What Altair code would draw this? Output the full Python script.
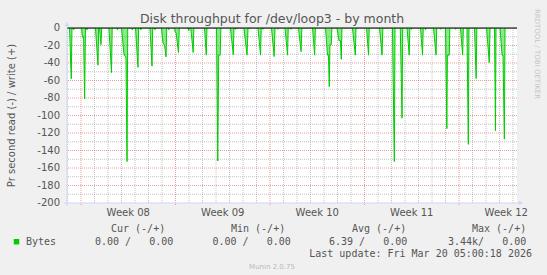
import altair as alt
import pandas as pd

# ---------------- data ----------------
# time in days from Mon 2026-02-16 00:00 (start of Week 08); read bytes/s shown negative
t_days = [
    -1.037,
    -0.85, -0.72, -0.67,
    -0.59, -0.54, -0.50,
    0.04, 0.11, 0.19, 0.27, 0.33,
    0.41, 0.44, 0.48,
    1.07, 1.26, 1.31,
    1.37, 1.48, 1.53,
    2.07, 2.26, 2.31,
    2.67, 2.70, 2.74,
    3.00, 3.19, 3.33, 3.41, 3.46,
    3.78, 3.80, 3.83,
    4.04, 4.22, 4.27,
    4.41, 4.44, 4.48,
    5.11, 5.26, 5.31,
    5.44, 5.48, 5.52,
    5.96, 6.07, 6.19, 6.30, 6.35,
    6.46, 6.50, 6.54,
    6.93, 6.98, 7.04, 7.22, 7.28,
    7.93, 7.98, 8.02,
    8.13, 8.31, 8.36,
    9.15, 9.28, 9.33,
    10.04, 10.13, 10.20, 10.31, 10.36,
    11.07, 11.28, 11.33,
    11.41, 11.44, 11.48,
    11.56, 11.59, 11.63,
    12.07, 12.30, 12.37,
    12.44, 12.48, 12.52,
    13.11, 13.30, 13.35,
    13.44, 13.48, 13.52,
    14.11, 14.31, 14.37,
    14.56, 14.59, 14.63,
    15.11, 15.30, 15.35,
    15.52, 15.56, 15.60,
    16.11, 16.30, 16.36,
    17.15, 17.31, 17.36,
    18.11, 18.26, 18.33, 18.39, 18.44, 18.54, 18.58,
    18.96, 19.11, 19.22, 19.28, 19.33,
    20.11, 20.32, 20.37,
    21.15, 21.30, 21.35,
    22.11, 22.30, 22.36,
    23.07, 23.21, 23.26,
    23.65, 23.78, 23.83,
    24.15, 24.31, 24.36,
    24.44, 24.48, 24.52,
    25.15, 25.30, 25.35,
    25.48, 25.52, 25.56,
    26.11, 26.30, 26.35,
    26.59, 26.63, 26.67,
    27.00, 27.10, 27.14, 27.28, 27.32,
    27.70, 27.74, 27.78,
    28.11, 28.27, 28.32,
    28.59, 28.69, 28.74,
    29.15, 29.27, 29.32,
    30.04, 30.24, 30.30,
    30.63, 30.70, 30.74,
    31.04, 31.19, 31.26, 31.36, 31.41,
    32.296,
]
read_vals = [
    0,
    0, -58, 0,
    0, -2, 0,
    0, -10.6, -10, -81, 0,
    0, -2, 0,
    0, -42.5, 0,
    0, -19, 0,
    0, -51, 0,
    0, -2, 0,
    0, -31, -33, -152.6, 0,
    0, -2, 0,
    0, -45, 0,
    0, -2, 0,
    0, -43.6, 0,
    0, -2, 0,
    0, -17, -20, -33, 0,
    0, -2, 0,
    0, -5, -5, -28, 0,
    0, -3, 0,
    0, -28, 0,
    0, -31, 0,
    0, -152, -31, -31, 0,
    0, -30.5, 0,
    0, -1.5, 0,
    0, -1, 0,
    0, -31, 0,
    0, -1, 0,
    0, -31, 0,
    0, -1.5, 0,
    0, -32.6, 0,
    0, -1.5, 0,
    0, -31, 0,
    0, -1.5, 0,
    0, -27, 0,
    0, -31, 0,
    0, -31, -31, -67, -19, -19, 0,
    0, -14.5, -14.5, -35.7, 0,
    0, -31, 0,
    0, -31, 0,
    0, -31, 0,
    0, -152.6, 0,
    0, -103, 0,
    0, -31, 0,
    0, -1.5, 0,
    0, -31, 0,
    0, -2, 0,
    0, -31, 0,
    0, -1.5, 0,
    0, -115, -31, -31, 0,
    0, -1.5, 0,
    0, -31, 0,
    0, -133, 0,
    0, -57.7, 0,
    0, -39.5, 0,
    0, -117.6, 0,
    0, -31, -31, -127, 0,
    0,
]

X_DOMAIN = [-1.037, 32.296]
week_starts = [0, 7, 14, 21, 28]
week_centres = [3.5, 10.5, 17.5, 24.5, 31.5]
week_names = ["Week 08", "Week 09", "Week 10", "Week 11", "Week 12"]
day_marks = [-1, 1, 2, 3, 4, 5, 6, 8, 9, 10, 11, 12, 13, 15, 16, 17, 18, 19, 20,
             22, 23, 24, 25, 26, 27, 29, 30, 31, 32]
y_labels = [0, -20, -40, -60, -80, -100, -120, -140, -160, -180, -200]
y_minor = [-10, -30, -50, -70, -90, -110, -130, -150, -170, -190]
y_major = [-20, -40, -60, -80, -100, -120, -140, -160, -180]
zero_line = [0]

title_text = "Disk throughput for /dev/loop3 - by month"
y_title = "Pr second read (-) / write (+)"
legend_heads = ["Cur (-/+)", "Min (-/+)", "Avg (-/+)", "Max (-/+)"]
legend_vals = ["0.00 /   0.00", "0.00 /   0.00", "6.39 /   0.00", "3.44k/   0.00"]
series_name = "Bytes"
last_update = "Last update: Fri Mar 20 05:00:18 2026"
footer = "Munin 2.0.75"
watermark = "RRDTOOL / TOBI OETIKER"

# ---------------- chart ----------------
W, H = 450, 175
GREEN = "#00CC00"
FONT = "DejaVu Sans"
MONO = "DejaVu Sans Mono"
TXT = "#555555"
AXISC = "#CFD6F8"

xs = alt.Scale(domain=X_DOMAIN, nice=False, zero=False)
ys = alt.Scale(domain=[-200, 0], nice=False, zero=False)

one = pd.DataFrame({"a": [0]})
series = pd.DataFrame({"t": t_days, "v": read_vals})

vgrid_minor = alt.Chart(pd.DataFrame({"t": day_marks})).mark_rule(
    stroke="#a8a8a8", strokeWidth=1, strokeDash=[1, 1], opacity=0.7
).encode(x=alt.X("t:Q", scale=xs, axis=None), y=alt.value(0), y2=alt.value(H + 1))

vgrid_major = alt.Chart(pd.DataFrame({"t": week_starts})).mark_rule(
    stroke="#de4f4f", strokeWidth=1, strokeDash=[1, 1], opacity=0.55
).encode(x=alt.X("t:Q", scale=xs, axis=None), y=alt.value(0), y2=alt.value(H + 3))

hgrid_minor = alt.Chart(pd.DataFrame({"v": y_minor})).mark_rule(
    stroke="#a8a8a8", strokeWidth=1, strokeDash=[1, 1], opacity=0.7
).encode(y=alt.Y("v:Q", scale=ys, axis=None))

hgrid_major = alt.Chart(pd.DataFrame({"v": y_major})).mark_rule(
    stroke="#de4f4f", strokeWidth=1, strokeDash=[1, 1], opacity=0.55
).encode(y=alt.Y("v:Q", scale=ys, axis=None))

area = alt.Chart(series).mark_area(
    color=GREEN, opacity=0.45, interpolate="linear", clip=True
).encode(x=alt.X("t:Q", scale=xs, axis=None), y=alt.Y("v:Q", scale=ys, axis=None))

line = alt.Chart(series).mark_line(
    color=GREEN, strokeWidth=1, interpolate="linear", clip=True
).encode(x=alt.X("t:Q", scale=xs, axis=None), y=alt.Y("v:Q", scale=ys, axis=None))

zero = alt.Chart(pd.DataFrame({"v": zero_line})).mark_rule(
    stroke="#000000", strokeWidth=1
).encode(y=alt.Y("v:Q", scale=ys, axis=None))

# tick labels, positioned through the scales
ylab = alt.Chart(pd.DataFrame({"v": y_labels, "lab": [str(v) for v in y_labels]})).mark_text(
    font=FONT, fontSize=10, color=TXT, align="right", baseline="middle"
).encode(y=alt.Y("v:Q", scale=ys, axis=None), x=alt.value(-7), text="lab:N")

xlab = alt.Chart(pd.DataFrame({"t": week_centres, "lab": week_names})).mark_text(
    font=FONT, fontSize=10, color=TXT, align="center", baseline="middle"
).encode(x=alt.X("t:Q", scale=xs, axis=None), y=alt.value(H + 10), text="lab:N")

xaxis_line = alt.Chart(one).mark_rule(stroke=AXISC, strokeWidth=1).encode(
    x=alt.value(-3), x2=alt.value(W + 3), y=alt.value(H))
yaxis_line = alt.Chart(one).mark_rule(stroke=AXISC, strokeWidth=1).encode(
    y=alt.value(-4), y2=alt.value(H + 3), x=alt.value(0))
x_arrow = alt.Chart(one).mark_point(shape="triangle-right", filled=True, size=22,
                                    color=AXISC, opacity=1).encode(
    x=alt.value(W + 4), y=alt.value(H))
y_arrow = alt.Chart(one).mark_point(shape="triangle-up", filled=True, size=22,
                                    color=AXISC, opacity=1).encode(
    x=alt.value(0), y=alt.value(-4))


def txt(s, x, y, font=FONT, size=10, color=TXT, align="left", angle=0):
    return alt.Chart(one).mark_text(
        text=s, font=font, fontSize=size, color=color, align=align,
        baseline="middle", angle=angle
    ).encode(x=alt.value(x), y=alt.value(y))


NB = "\u00a0"
texts = [
    txt(title_text, 205, -9, size=12.5, color="#555555", align="center"),
    txt(y_title, -55, 87.5, size=10, align="center", angle=270),
    txt(watermark, 469.5, 26, size=7, color="#c4c4c4", align="center", angle=90),
    txt(footer, 205, 239, size=7, color="#b8b8b8", align="center"),
    txt(series_name, -41, 213.7, font=MONO),
    txt(last_update, 465, 226, font=MONO, align="right"),
]
head_x = [44, 164, 285, 405]
val_x = [28, 145.5, 262, 381]
for h, hx in zip(legend_heads, head_x):
    texts.append(txt(h, hx, 201, font=MONO))
for v, vx in zip(legend_vals, val_x):
    texts.append(txt(v.replace(" ", NB), vx, 213.7, font=MONO))

swatch = alt.Chart(one).mark_square(size=30, color=GREEN, opacity=1).encode(
    x=alt.value(-50.5), y=alt.value(213.7))

chart = alt.layer(
    vgrid_minor, hgrid_minor, vgrid_major, hgrid_major, area, line, zero,
    xaxis_line, yaxis_line, x_arrow, y_arrow, ylab, xlab, swatch, *texts
).properties(
    width=W, height=H,
    padding={"left": 67, "top": 28, "right": 30, "bottom": 72},
    autosize=alt.AutoSizeParams(type="none"),
    background="#F0F0F0",
).configure_view(fill="white", stroke=None)

chart.save("out.html", embed_options={"renderer": "svg", "actions": False})
